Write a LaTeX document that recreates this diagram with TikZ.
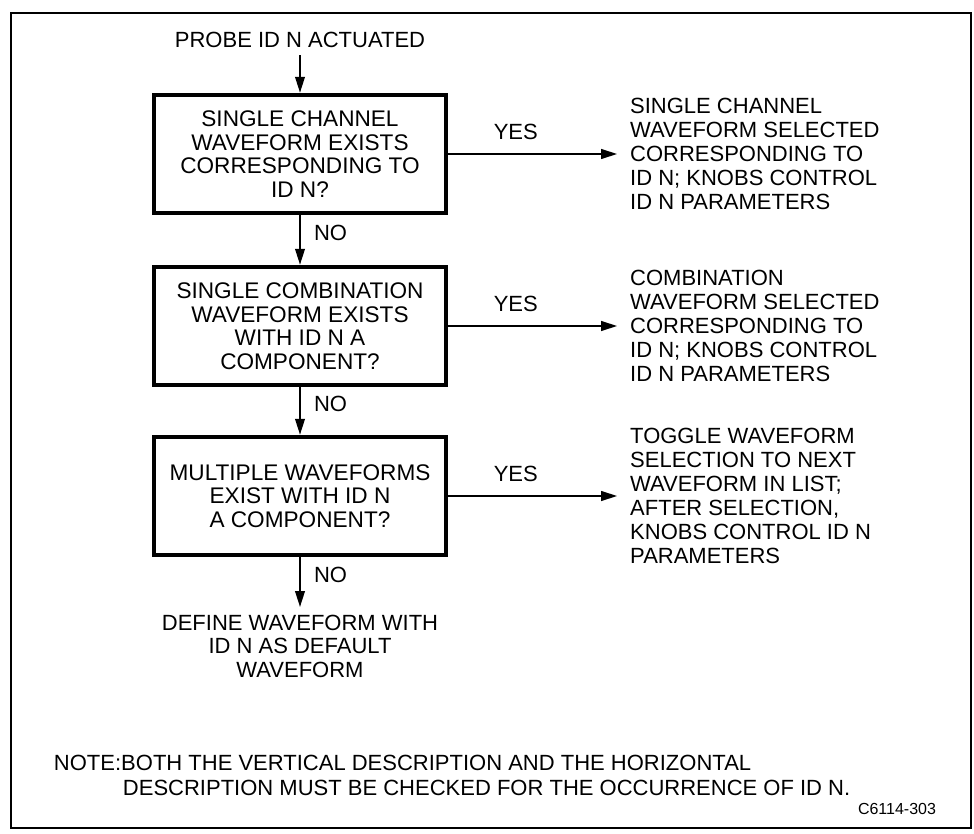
\documentclass[tikz,border=0pt]{standalone}
\usepackage{fontspec}
\setmainfont{Liberation Sans}
\usepackage{tikz}
\usetikzlibrary{arrows.meta, positioning}

\begin{document}
\begin{tikzpicture}[x=0.5pt, y=-0.5pt, on grid, auto,
    >={Triangle[length=8pt,width=4.8pt]}, line width=1pt,
    every node/.style={font=\fontsize{11}{11.75}\selectfont},
    decision/.style={draw, line width=2.2pt, minimum width=146pt, minimum height=59pt, align=center, inner sep=2pt, font=\fontsize{11.3}{11.75}\selectfont},
    result/.style={align=left, inner xsep=6pt, font=\fontsize{11}{12}\selectfont},
    answer/.style={inner sep=6.5pt}]
        \useasboundingbox (0,0) rectangle (974,834);
        \draw[line width=1.2pt] (11,13) rectangle (971,828);

        \node (probe) at (300,40) {PROBE ID N ACTUATED};
        \node[decision] (d1) [below=57pt of probe] {SINGLE CHANNEL\\WAVEFORM EXISTS\\CORRESPONDING TO\\ID N?};
        \node[decision] (d2) [below=86pt of d1] {SINGLE COMBINATION\\WAVEFORM EXISTS\\WITH ID N A\\COMPONENT?};
        \node[decision] (d3) [below=85pt of d2] {MULTIPLE WAVEFORMS\\EXIST WITH ID N\\A COMPONENT?};
        \node[align=center] (dflt) [below=75pt of d3] {DEFINE WAVEFORM WITH\\ID N AS DEFAULT\\WAVEFORM};

        \node[result, anchor=west] (r1) at ([xshift=84.5pt]d1.east) {SINGLE CHANNEL\\WAVEFORM SELECTED\\CORRESPONDING TO\\ID N; KNOBS CONTROL\\ID N PARAMETERS};
        \node[result, anchor=west] (r2) at ([xshift=84.5pt]d2.east) {COMBINATION\\WAVEFORM SELECTED\\CORRESPONDING TO\\ID N; KNOBS CONTROL\\ID N PARAMETERS};
        \node[result, anchor=west] (r3) at ([xshift=84.5pt]d3.east) {TOGGLE WAVEFORM\\SELECTION TO NEXT\\WAVEFORM IN LIST;\\AFTER SELECTION,\\KNOBS CONTROL ID N\\PARAMETERS};

        \node[align=left, inner sep=0pt, anchor=north west, font=\fontsize{11}{12.5}\selectfont] (note) at (53,754)
            {NOTE:BOTH THE VERTICAL DESCRIPTION AND THE HORIZONTAL\\\hspace*{34.5pt}DESCRIPTION MUST BE CHECKED FOR THE OCCURRENCE OF ID N.};
        \node[anchor=east, inner sep=0pt, font=\fontsize{8}{9}\selectfont] (fig) at (937,809) {C6114-303};

        \path[->]   (probe) edge (d1)
        (d1) edge node[answer, pos=0.35] {NO} (d2)
        (d2) edge node[answer, pos=0.35] {NO} (d3)
        (d3) edge node[answer, pos=0.35] {NO} (dflt)

        (d1) edge node[answer, pos=0.4] {YES} (r1)
        (d2) edge node[answer, pos=0.4] {YES} (r2)
        (d3) edge node[answer, pos=0.4] {YES} (r3)
        ;
    \end{tikzpicture}
\end{document}
